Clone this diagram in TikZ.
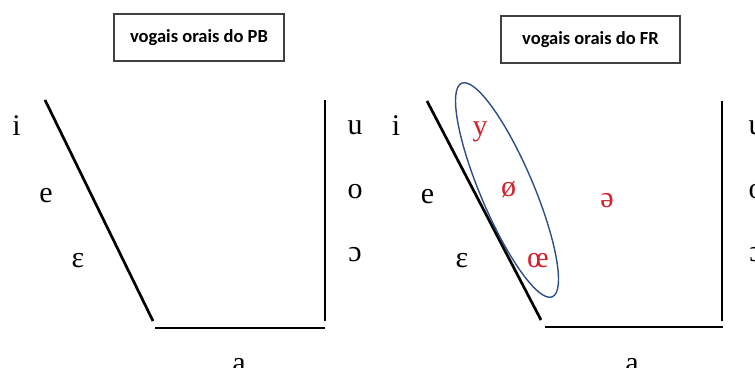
\documentclass[tikz,border=0pt]{standalone}
\usepackage{fontspec}
\setmainfont{Liberation Serif}
\newfontfamily\titlefont{Carlito}
\definecolor{vowelred}{RGB}{210,35,45}
\definecolor{groupblue}{RGB}{45,78,140}
\begin{document}
\begin{tikzpicture}[x=1pt,y=-1pt,
  vowel/.style={anchor=base,inner sep=0pt,font=\fontsize{30}{30}\selectfont},
  front/.style={vowel,text=vowelred},
  titlebox/.style={draw=black!75,line width=1.2pt,minimum width=#1,minimum height=47pt,
    inner sep=0pt,font=\titlefont\bfseries\fontsize{18.5}{20}\selectfont},
  axis/.style={line width=2.7pt}]
\useasboundingbox (0,0) rectangle (755,367);

% ---- left chart ----
\node[titlebox=170pt] (tpb) at (199,37.5) {vogais orais do PB};
\coordinate (l1) at (45,100);
\coordinate (l2) at (153,321);
\coordinate (l3) at (155,328);
\coordinate (l4) at (325,328);
\coordinate (l5) at (325,321);
\coordinate (l6) at (325,100);
\draw[axis] (l1) -- (l2);
\draw[axis] (l3) -- (l4);
\draw[axis] (l5) -- (l6);
\node[vowel] (pi) at (16.5,135) {i};
\node[vowel] (pe) at (46,202) {e};
\node[vowel] (peps) at (78,267) {ɛ};
\node[vowel] (pu) at (355,134) {u};
\node[vowel] (po) at (355,198) {o};
\node[vowel] (popen) at (355,261) {ɔ};
\node[vowel] (pa) at (239,372) {a};

% ---- right chart ----
\node[titlebox=179pt] (tfr) at (590.5,39.5) {vogais orais do FR};
\coordinate (r1) at (427,101);
\coordinate (r2) at (541,320);
\coordinate (r3) at (545,327);
\coordinate (r4) at (723,327);
\coordinate (r5) at (722,321);
\coordinate (r6) at (722,101);
\draw[axis] (r1) -- (r2);
\draw[axis] (r3) -- (r4);
\draw[axis] (r5) -- (r6);
\node[vowel] (fi) at (396,135) {i};
\node[vowel] (fe) at (427.5,203) {e};
\node[vowel] (feps) at (462,267) {ɛ};
\node[vowel] (fu) at (756,134) {u};
\node[vowel] (fo) at (756,198) {o};
\node[vowel] (fopen) at (756,261) {ɔ};
\node[vowel] (fa) at (632,372) {a};
\node[front] (fy) at (480,135) {y};
\node[front] (foe) at (508.5,196) {ø};
\node[front] (fschwa) at (607,207) {ə};
\node[front] (foelig) at (538,267) {œ};

% rounded front vowels grouped together
\coordinate (ec) at (507,190);
\draw[color=groupblue,line width=1.4pt,rotate around={-67:(ec)}]
  (ec) ellipse [x radius=116pt,y radius=26.5pt];
\end{tikzpicture}
\end{document}
